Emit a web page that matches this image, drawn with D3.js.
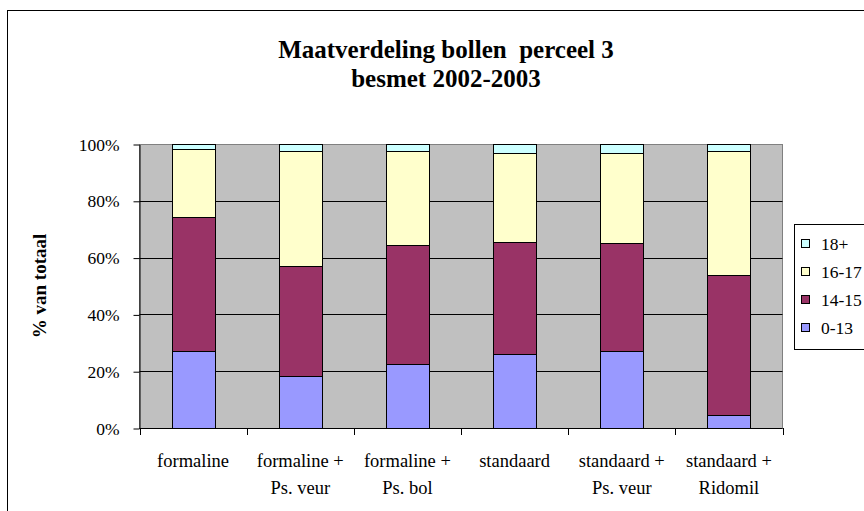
<!DOCTYPE html>
<html>
  <head>
    <meta charset="utf-8">
    <script src="https://d3js.org/d3.v7.min.js"></script>
  </head>
  <body style="margin:0">
    <svg id="chart" width="864" height="511" font-family="Liberation Serif"></svg>
    <script>
      // data (percentages per treatment)
      const categories = ["formaline", "formaline + Ps. veur", "formaline + Ps. bol", "standaard", "standaard + Ps. veur", "standaard + Ridomil"];
      const categoryLines = [["formaline"], ["formaline +", "Ps. veur"], ["formaline +", "Ps. bol"], ["standaard"], ["standaard +", "Ps. veur"], ["standaard +", "Ridomil"]];
      const sizeClasses = ["0-13", "14-15", "16-17", "18+"];
      const size0to13 = [27.2, 18.3, 22.5, 25.9, 27.2, 4.6];
      const size14to15 = [47.2, 38.7, 41.9, 39.6, 37.8, 49.2];
      const size16to17 = [23.7, 40.6, 33.1, 31.2, 31.7, 43.7];
      const size18plus = [1.9, 2.4, 2.5, 3.3, 3.3, 2.5];
      const yTicks = [0, 0.2, 0.4, 0.6, 0.8, 1];
      const colours = ["#9999ff", "#993366", "#ffffcc", "#ccffff"];
      const fontName = "Liberation Serif";

      // build rows for the stack
      const series = [size0to13, size14to15, size16to17, size18plus];
      const rows = categories.map(function(c, i) {
        let row = { cat: c };
        sizeClasses.forEach(function(s, j) { row[s] = series[j][i]; });
        return row;
      });
      const stacked = d3.stack()
        .keys(sizeClasses)
        .offset(d3.stackOffsetExpand)(rows);

      // page elements
      const plot = { left: 139.5, right: 782.5, top: 144, bottom: 428 };
      const svg = d3.select("#chart");

      // outer frame
      svg.append("rect")
        .attr("x", 7.5).attr("y", 10.5)
        .attr("width", 880).attr("height", 540)
        .attr("fill", "#fff").attr("stroke", "#000");

      // title
      svg.append("text")
        .attr("font-weight", "bold").attr("font-size", 25)
        .attr("xml:space", "preserve")
        .attr("x", 446).attr("y", 58).attr("text-anchor", "middle")
        .text("Maatverdeling bollen  perceel 3");
      svg.append("text")
        .attr("font-weight", "bold").attr("font-size", 25)
        .attr("x", 446).attr("y", 87).attr("text-anchor", "middle")
        .text("besmet 2002-2003");

      // scales
      const x = d3.scaleBand()
        .domain(categories)
        .range([plot.left, plot.right])
        .paddingInner(0.6)
        .paddingOuter(0.3);
      const y = d3.scaleLinear()
        .domain([0, 1])
        .range([plot.bottom, plot.top]);

      // plot area
      svg.append("rect")
        .attr("x", plot.left).attr("y", plot.top + 0.5)
        .attr("width", plot.right - plot.left).attr("height", plot.bottom - plot.top)
        .attr("fill", "#c0c0c0").attr("stroke", "#808080");

      // gridlines
      svg.append("g").selectAll("line")
        .data(yTicks.filter(function(d) { return d > 0 && d < 1; }))
        .enter().append("line")
          .attr("x1", plot.left).attr("x2", plot.right)
          .attr("y1", function(d) { return Math.round(y(d)) + 0.5; })
          .attr("y2", function(d) { return Math.round(y(d)) + 0.5; })
          .attr("stroke", "#000");

      // bars
      const layers = svg.append("g").selectAll("g")
        .data(stacked)
        .enter().append("g")
          .attr("fill", function(d, i) { return colours[i]; });
      layers.selectAll("rect")
        .data(function(d) { return d; })
        .enter().append("rect")
          .attr("x", function(d) { return Math.round(x(d.data.cat)) + 0.5; })
          .attr("width", Math.round(x.bandwidth()))
          .attr("y", function(d) { return Math.round(y(d[1])) + 0.5; })
          .attr("height", function(d) { return Math.round(y(d[0])) - Math.round(y(d[1])); })
          .attr("stroke", "#000");

      // y axis
      const yAxis = d3.axisLeft(y)
        .tickValues(yTicks)
        .tickFormat(d3.format(".0%"))
        .tickSizeInner(6)
        .tickSizeOuter(0)
        .tickPadding(14);
      const yAxisGroup = svg.append("g")
        .attr("transform", "translate(" + plot.left + ", 0.5)")
        .call(yAxis)
        .attr("font-family", fontName)
        .attr("font-size", 17.5);
      yAxisGroup.select(".domain").attr("stroke", "#000");
      yAxisGroup.selectAll("text").attr("fill", "#000");

      // x axis with ticks between categories
      const boundaries = d3.range(categories.length + 1).map(function(i) {
        return plot.left + i * x.step();
      });
      const xAxisGroup = svg.append("g")
        .attr("font-size", 18.5);
      xAxisGroup.append("line")
        .attr("x1", plot.left).attr("x2", plot.right)
        .attr("y1", plot.bottom + 0.5).attr("y2", plot.bottom + 0.5)
        .attr("stroke", "#000");
      xAxisGroup.selectAll(".xtick")
        .data(boundaries)
        .enter().append("line")
          .attr("class", "xtick")
          .attr("x1", function(d) { return Math.round(d) + 0.5; })
          .attr("x2", function(d) { return Math.round(d) + 0.5; })
          .attr("y1", plot.bottom).attr("y2", plot.bottom + 7)
          .attr("stroke", "#000");
      const catText = xAxisGroup.selectAll(".catLabel")
        .data(categories)
        .enter().append("text")
          .attr("class", "catLabel")
          .attr("text-anchor", "middle")
          .attr("x", function(d) { return x(d) + x.bandwidth() / 2; })
          .attr("y", 467);
      catText.selectAll("tspan")
        .data(function(d, i) { return categoryLines[i]; })
        .enter().append("tspan")
          .attr("x", function() { let c = this.parentNode.__data__; return x(c) + x.bandwidth() / 2; })
          .attr("dy", function(d, i) { return i === 0 ? 0 : 27; })
          .text(function(d) { return d; });

      // y axis title
      svg.append("text")
        .attr("font-weight", "bold").attr("font-size", 19)
        .attr("transform", "translate(46, 286) rotate(-90)")
        .attr("text-anchor", "middle")
        .text("% van totaal");

      // legend
      const legend = svg.append("g")
        .attr("font-size", 17.5);
      legend.append("rect")
        .attr("x", 794.5).attr("y", 224.5)
        .attr("width", 90).attr("height", 125)
        .attr("fill", "#fff").attr("stroke", "#000");
      const legendItems = legend.selectAll(".legendItem")
        .data(sizeClasses.slice().reverse())
        .enter().append("g")
          .attr("class", "legendItem")
          .attr("transform", function(d, i) { return "translate(0, " + (244 + i * 28) + ")"; });
      legendItems.append("rect")
        .attr("x", 801.5).attr("y", -4.5)
        .attr("width", 8).attr("height", 8)
        .attr("fill", function(d) { return colours[sizeClasses.indexOf(d)]; })
        .attr("stroke", "#000");
      legendItems.append("text")
        .attr("x", 821).attr("y", 6)
        .text(function(d) { return d; });

      // force the serif face on every label
      svg.selectAll("text").style("font-family", fontName);
    </script>
  </body>
</html>
